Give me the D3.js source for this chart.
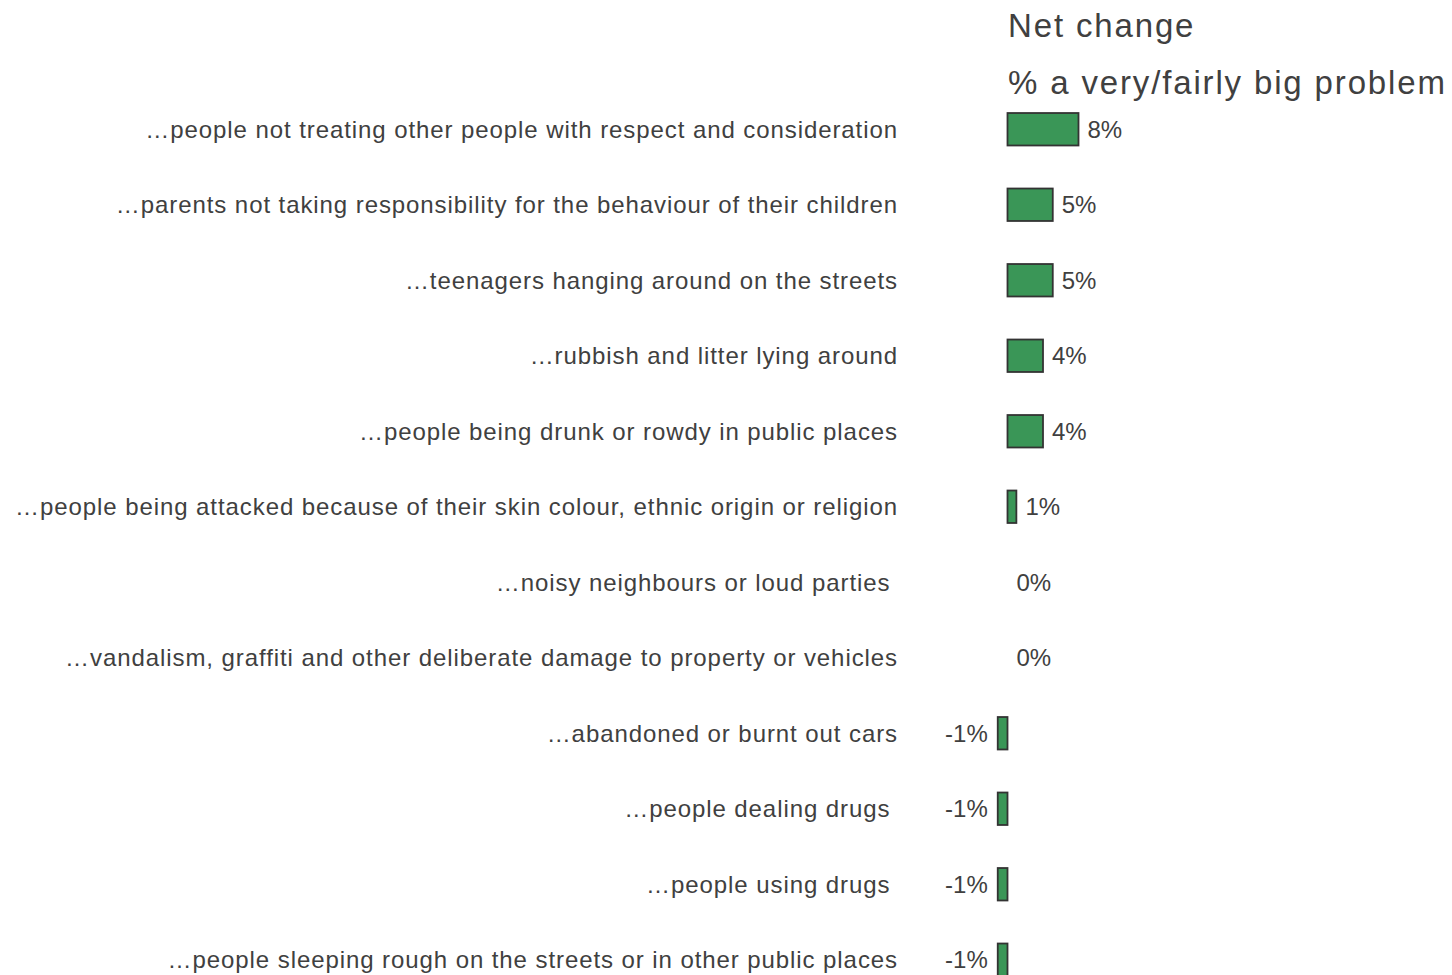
<!DOCTYPE html>
<html><head><meta charset="utf-8">
<script src="https://cdn.jsdelivr.net/npm/d3@7"></script>
<style>body{margin:0;background:#fff}text{font-family:Arial,"Liberation Sans",sans-serif;fill:#404040;white-space:pre}</style>
</head><body><svg id="c" width="1452" height="975"></svg>
<script>
const categories = [
 "…people not treating other people with respect and consideration",
 "…parents not taking responsibility for the behaviour of their children",
 "…teenagers hanging around on the streets",
 "…rubbish and litter lying around",
 "…people being drunk or rowdy in public places",
 "…people being attacked because of their skin colour, ethnic origin or religion",
 "…noisy neighbours or loud parties ",
 "…vandalism, graffiti and other deliberate damage to property or vehicles",
 "…abandoned or burnt out cars",
 "…people dealing drugs ",
 "…people using drugs ",
 "…people sleeping rough on the streets or in other public places"
];
const values = [8.0, 5.1, 5.1, 4.0, 4.0, 1.0, 0.0, 0.0, -1.1, -1.1, -1.1, -1.1];
const valueLabels = ["8%","5%","5%","4%","4%","1%","0%","0%","-1%","-1%","-1%","-1%"];
const titleLines = ["Net change", "% a very/fairly big problem"];

const svg = d3.select("#c");
const x = d3.scaleLinear().domain([0, 8]).range([1007.5, 1078.5]);
const y = d3.scaleBand().domain(categories).range([91.5, 997.5]).paddingInner(0.57).paddingOuter(0.285);

svg.selectAll("text.cat").data(categories).join("text")
  .attr("class","cat")
  .attr("x", 898).attr("y", d => y(d) + y.bandwidth()/2)
  .attr("dy","0.35em").attr("text-anchor","end")
  .style("font-size","24px").style("letter-spacing","0.92px").text(d => d);

svg.selectAll("rect.bar").data(values).join("rect")
  .attr("class","bar")
  .attr("x", d => x(Math.min(0,d)))
  .attr("width", d => Math.abs(x(d)-x(0)))
  .attr("y", (d,i) => y(categories[i]))
  .attr("height", y.bandwidth())
  .attr("fill", "#3a9657")
  .attr("stroke", "#333")
  .attr("stroke-width", 1.8)
  .style("display", d => d === 0 ? "none" : null);

svg.selectAll("text.val").data(values).join("text")
  .attr("class","val")
  .attr("x", d => d < 0 ? x(d) - 10 : x(d) + 9)
  .attr("y", (d,i) => y(categories[i]) + y.bandwidth()/2)
  .attr("dy","0.35em")
  .attr("text-anchor", d => d < 0 ? "end" : "start")
  .style("font-size","24px")
  .text((d,i) => valueLabels[i]);

svg.selectAll("text.title").data(titleLines).join("text")
  .attr("class","title")
  .attr("x", 1008).attr("y", (d,i) => 37 + i*57)
  .style("font-size","33px").style("letter-spacing","1.85px").text(d => d);
</script></body></html>
